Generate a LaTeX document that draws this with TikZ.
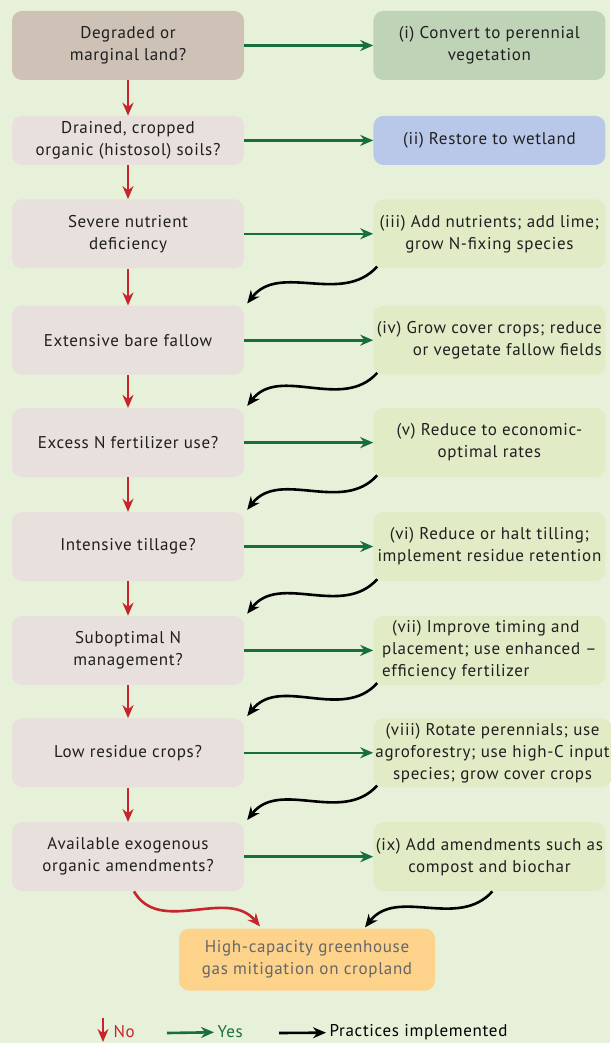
\documentclass[tikz,border=0pt]{standalone}
\usepackage{fontspec}
\setmainfont{PT Sans}[LetterSpace=4]
\usetikzlibrary{positioning,arrows.meta}
\definecolor{bgcol}{HTML}{E7F1DA}
\definecolor{qcol}{HTML}{E7E0DC}
\definecolor{taupe}{HTML}{CDC2B5}
\definecolor{actcol}{HTML}{E1ECC7}
\definecolor{vegcol}{HTML}{BFD4B6}
\definecolor{wetcol}{HTML}{B9C8E9}
\definecolor{goalcol}{HTML}{FDD38C}
\definecolor{nocol}{HTML}{C7252B}
\definecolor{yescol}{HTML}{17703B}

\begin{document}
\begin{tikzpicture}[
  x=1pt, y=1pt,
  node distance=34.5pt and 129pt,
  font=\fontsize{17}{22}\selectfont,
  box/.style={rounded corners=10pt, minimum width=232pt, minimum height=69pt, align=center, inner sep=2pt, text=black!88},
  quest/.style={box, fill=qcol},
  act/.style={box, fill=actcol},
  noarr/.style={-{Stealth[length=13pt, width=11pt]}, draw=nocol, line width=2.6pt},
  yesarr/.style={-{Stealth[length=13pt, width=11pt]}, draw=yescol, line width=2.6pt},
  implarr/.style={-{Stealth[length=13pt, width=11pt]}, draw=black, line width=2.6pt}]
\fill[bgcol] (0,0) rectangle (610,-1043);
\useasboundingbox (0,0) rectangle (610,-1043);
% questions
\node[quest, fill=taupe] (q1) at (128,-45.5) {Degraded or\\marginal land?};
\node[quest, minimum height=49pt, below=35.5pt of q1] (q2) {Drained, cropped\\organic (histosol) soils?};
\node[quest, below=34pt of q2] (q3) {Severe nutrient\\deficiency};
\node[quest, below=37pt of q3] (q4) {Extensive bare fallow};
\node[quest, below=33pt of q4] (q5) {Excess N fertilizer use?};
\node[quest, below=of q5] (q6) {Intensive tillage?};
\node[quest, below=of q6] (q7) {Suboptimal N\\management?};
\node[quest, below=33pt of q7] (q8) {Low residue crops?};
\node[quest, below=of q8] (q9) {Available exogenous\\organic amendments?};
\node[box, fill=goalcol, minimum width=256pt, minimum height=62pt, text=black!60, below=37pt of q9, xshift=179pt] (goal) {High-capacity greenhouse\\gas mitigation on cropland};
% practices
\node[act, fill=vegcol, right=of q1] (a1) {(i) Convert to perennial\\vegetation};
\node[act, fill=wetcol, minimum height=49pt, right=of q2] (a2) {(ii) Restore to wetland};
\node[act, right=of q3] (a3) {(iii) Add nutrients; add lime;\\grow N-fixing species};
\node[act, align=right, right=of q4] (a4) {(iv) Grow cover crops; reduce\\or vegetate fallow fields};
\node[act, right=of q5] (a5) {(v) Reduce to economic-\\optimal rates};
\node[act, right=of q6] (a6) {(vi) Reduce or halt tilling;\\implement residue retention};
\node[act, align=left, right=of q7] (a7) {\hspace*{10pt}(vii) Improve timing and\\placement; use enhanced –\\efficiency fertilizer};
\node[act, right=of q8] (a8) {(viii) Rotate perennials; use\\agroforestry; use high-C input\\species; grow cover crops};
\node[act, right=of q9] (a9) {(ix) Add amendments such as\\compost and biochar};
% no
\foreach \i/\j in {1/2,2/3,3/4,4/5,5/6,6/7,7/8,8/9}
  \draw[noarr] (q\i) -- (q\j);
\draw[noarr] ([xshift=6pt]q9.south) to[out=-60, in=130] ([xshift=-47pt,yshift=2pt]goal.north);
% yes
\foreach \i in {1,...,9}
  \draw[yesarr] (q\i) -- (a\i);
% practices implemented
\foreach \i/\j in {3/4,4/5,5/6,6/7,7/8,8/9}
  \draw[implarr] ([shift={(4pt,2pt)}]a\i.south west) to[out=228, in=52] ([shift={(3pt,2pt)}]q\j.north east);
\draw[implarr] ([xshift=3pt]a9.south) to[out=228, in=52] ([xshift=58pt,yshift=1pt]goal.north);
% legend
\coordinate (ntop) at (103,-1018);
\coordinate (nbot) at (103,-1042);
\draw[noarr] (ntop) -- (nbot);
\node[anchor=west, text=nocol] (nolbl) at (110,-1032) {No};
\coordinate (ystart) at (167,-1033);
\node[anchor=west, text=yescol] (yeslbl) at (214,-1032) {Yes};
\draw[yesarr] (ystart) -- (yeslbl);
\coordinate (pstart) at (279,-1033);
\node[anchor=west] (plbl) at (326,-1032) {Practices implemented};
\draw[implarr] (pstart) -- (plbl);
\end{tikzpicture}
\end{document}
